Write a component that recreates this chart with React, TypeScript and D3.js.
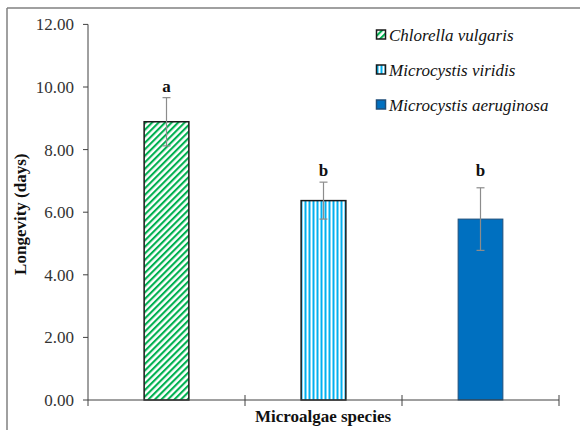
import React from "react";
import * as d3 from "d3";

const categories = ["Chlorella vulgaris", "Microcystis viridis", "Microcystis aeruginosa"];
const means = [8.89, 6.37, 5.78];
const errors = [0.77, 0.59, 1.0];
const letters = ["a", "b", "b"];
const yTicks = [0, 2, 4, 6, 8, 10, 12];

const W = 580;
const H = 430;
const M = { left: 88, right: 21, top: 24.4, bottom: 30 };

export default function App() {
  const x = d3.scaleBand<string>().domain(categories).range([M.left, W - M.right]).paddingInner(0).paddingOuter(0);
  const y = d3.scaleLinear().domain([0, 12]).range([H - M.bottom, M.top]);
  const bw = x.bandwidth() * 0.285;
  const fills = ["url(#hatchGreen)", "url(#stripeBlue)", "#0070c0"];
  const strokes = ["#1a1a1a", "#1a1a1a", "#1f4e79"];
  const strokeW = [1.5, 1.5, 1];
  const font = "'Liberation Serif', 'DejaVu Serif', 'Noto Serif', 'Nimbus Roman', 'FreeSerif', 'Times', serif";
  const axisColor = "#404040";

  const letterY: Record<string, number> = {};
  letters.forEach((l, i) => {
    const top = y(means[i] + errors[i]);
    letterY[l] = letterY[l] === undefined ? top : Math.min(letterY[l], top);
  });

  const boundaries = [...categories.map((c) => x(c)!), x(categories[categories.length - 1])! + x.bandwidth()];

  return (
    <svg width={W} height={H} style={{ position: "absolute", left: 0, top: 0, background: "#fff", fontFamily: font }}>
      <defs>
        <pattern id="hatchGreen" width="4.6" height="4.6" patternUnits="userSpaceOnUse" patternTransform="rotate(45)">
          <rect width="4.6" height="4.6" fill="#fff" />
          <rect x="0" y="0" width="2.1" height="4.6" fill="#00b050" />
        </pattern>
        <pattern id="stripeBlue" width="4" height="4" patternUnits="userSpaceOnUse">
          <rect width="4" height="4" fill="#fff" />
          <rect x="0.5" y="0" width="2" height="4" fill="#00b0f0" />
        </pattern>
      </defs>
      <rect x={0} y={0} width={W} height={H} fill="#fff" />
      <line x1={7} y1={8} x2={W} y2={8} stroke="#808080" strokeWidth={1.5} />
      <line x1={7} y1={8} x2={7} y2={H} stroke="#808080" strokeWidth={1.5} />

      <line x1={M.left} y1={y(12)} x2={M.left} y2={y(0)} stroke={axisColor} strokeWidth={1} />
      {yTicks.map((t) => (
        <g key={t}>
          <line x1={M.left - 5} x2={M.left} y1={y(t)} y2={y(t)} stroke={axisColor} />
          <text x={M.left - 14} y={y(t)} dy="0.35em" textAnchor="end" fontSize={17} fill="#333">
            {t.toFixed(2)}
          </text>
        </g>
      ))}
      <text
        transform={`translate(26,${(y(0) + y(12)) / 2 + 2}) rotate(-90)`}
        textAnchor="middle"
        fontSize={17}
        fontWeight="bold"
        fill="#111"
      >
        Longevity (days)
      </text>

      {categories.map((c, i) => {
        const cx = x(c)! + x.bandwidth() / 2;
        return (
          <g key={c}>
            <rect
              x={cx - bw / 2}
              y={y(means[i])}
              width={bw}
              height={y(0) - y(means[i])}
              fill={fills[i]}
              stroke={strokes[i]}
              strokeWidth={strokeW[i]}
            />
            <line x1={cx} x2={cx} y1={y(means[i] + errors[i])} y2={y(means[i] - errors[i])} stroke="#8c8c8c" strokeWidth={1.2} />
            <line x1={cx - 4} x2={cx + 4} y1={y(means[i] + errors[i])} y2={y(means[i] + errors[i])} stroke="#8c8c8c" strokeWidth={1.2} />
            <line x1={cx - 4} x2={cx + 4} y1={y(means[i] - errors[i])} y2={y(means[i] - errors[i])} stroke="#8c8c8c" strokeWidth={1.2} />
            <text x={cx} y={letterY[letters[i]] - 6} textAnchor="middle" fontSize={17} fontWeight="bold" fill="#111">
              {letters[i]}
            </text>
          </g>
        );
      })}

      <line x1={M.left} x2={boundaries[boundaries.length - 1]} y1={y(0)} y2={y(0)} stroke={axisColor} strokeWidth={1} />
      {boundaries.map((b, i) => (
        <line key={i} x1={b} x2={b} y1={i === 0 ? y(0) : y(0) - 5} y2={y(0) + 6} stroke={axisColor} />
      ))}
      <text x={323} y={422} textAnchor="middle" fontSize={17} fontWeight="bold" fill="#111">
        Microalgae species
      </text>

      {categories.map((c, i) => (
        <g key={c} transform={`translate(376,${35 + i * 35})`}>
          <rect x={0.5} y={-5} width={9} height={9} fill={fills[i]} stroke={strokes[i]} strokeWidth={1.5} />
          <text x={13} y={0} dy="0.33em" fontSize={17} fontStyle="italic" fill="#111">
            {c}
          </text>
        </g>
      ))}
    </svg>
  );
}
